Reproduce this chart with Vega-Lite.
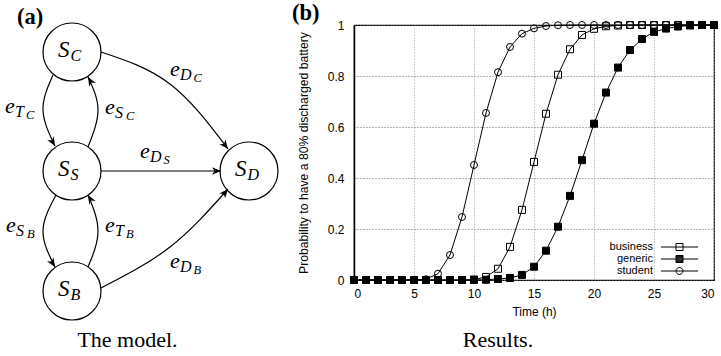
{
  "$schema": "https://vega.github.io/schema/vega-lite/v6.json",
  "width": 360,
  "height": 255,
  "autosize": {"type": "none"},
  "padding": {"left": 354, "top": 25, "right": 7, "bottom": 76},
  "config": {
    "view": {"stroke": "black", "strokeWidth": 1.2},
    "font": "Liberation Sans"
  },
  "datasets": {
    "curves": [
      {"t": 0, "business": 0, "generic": 0, "student": 0},
      {"t": 1, "business": 0, "generic": 0, "student": 0},
      {"t": 2, "business": 0, "generic": 0, "student": 0},
      {"t": 3, "business": 0, "generic": 0, "student": 0},
      {"t": 4, "business": 0, "generic": 0, "student": 0},
      {"t": 5, "business": 0, "generic": 0, "student": 0},
      {"t": 6, "business": 0, "generic": 0, "student": 0.003},
      {"t": 7, "business": 0, "generic": 0, "student": 0.025},
      {"t": 8, "business": 0, "generic": 0, "student": 0.098},
      {"t": 9, "business": 0, "generic": 0, "student": 0.247},
      {"t": 10, "business": 0.002, "generic": 0, "student": 0.451},
      {"t": 11, "business": 0.012, "generic": 0.001, "student": 0.655},
      {"t": 12, "business": 0.044, "generic": 0.004, "student": 0.815},
      {"t": 13, "business": 0.13, "generic": 0.008, "student": 0.914},
      {"t": 14, "business": 0.275, "generic": 0.02, "student": 0.966},
      {"t": 15, "business": 0.463, "generic": 0.052, "student": 0.987},
      {"t": 16, "business": 0.652, "generic": 0.115, "student": 0.996},
      {"t": 17, "business": 0.805, "generic": 0.209, "student": 0.999},
      {"t": 18, "business": 0.905, "generic": 0.33, "student": 1},
      {"t": 19, "business": 0.961, "generic": 0.47, "student": 1},
      {"t": 20, "business": 0.985, "generic": 0.613, "student": 1},
      {"t": 21, "business": 0.995, "generic": 0.735, "student": 1},
      {"t": 22, "business": 0.998, "generic": 0.833, "student": 1},
      {"t": 23, "business": 1, "generic": 0.902, "student": 1},
      {"t": 24, "business": 1, "generic": 0.945, "student": 1},
      {"t": 25, "business": 1, "generic": 0.973, "student": 1},
      {"t": 26, "business": 1, "generic": 0.986, "student": 1},
      {"t": 27, "business": 1, "generic": 0.994, "student": 1},
      {"t": 28, "business": 1, "generic": 0.998, "student": 1},
      {"t": 29, "business": 1, "generic": 1, "student": 1},
      {"t": 30, "business": 1, "generic": 1, "student": 1}
    ],
    "nodes": [
      {"id": "C", "x": 0, "y": 23.9},
      {"id": "S", "x": 0, "y": 12},
      {"id": "B", "x": 0, "y": 0},
      {"id": "D", "x": 17.7, "y": 12}
    ],
    "edges": [
      {"edge": "TC", "k": 0, "x": -1.9, "y": 21.6},
      {"edge": "TC", "k": 1, "x": -2.9, "y": 18.1},
      {"edge": "TC", "k": 2, "x": -1.7, "y": 14.5},
      {"edge": "SC", "k": 0, "x": 1.6, "y": 14.4},
      {"edge": "SC", "k": 1, "x": 2.6, "y": 18.1},
      {"edge": "SC", "k": 2, "x": 1.6, "y": 21.4},
      {"edge": "SB", "k": 0, "x": -1.6, "y": 9.6},
      {"edge": "SB", "k": 1, "x": -2.9, "y": 6.0},
      {"edge": "SB", "k": 2, "x": -1.7, "y": 2.4},
      {"edge": "TB", "k": 0, "x": 1.6, "y": 2.4},
      {"edge": "TB", "k": 1, "x": 2.6, "y": 6.0},
      {"edge": "TB", "k": 2, "x": 1.6, "y": 9.6},
      {"edge": "DC", "k": 0, "x": 2.9, "y": 23.9},
      {"edge": "DC", "k": 1, "x": 9.8, "y": 20.7},
      {"edge": "DC", "k": 2, "x": 15.6, "y": 14.2},
      {"edge": "DS", "k": 0, "x": 2.9, "y": 12},
      {"edge": "DS", "k": 1, "x": 14.9, "y": 12},
      {"edge": "DB", "k": 0, "x": 2.9, "y": 0.3},
      {"edge": "DB", "k": 1, "x": 9.8, "y": 4.4},
      {"edge": "DB", "k": 2, "x": 15.6, "y": 10.2}
    ],
    "arrows": [
      {"edge": "TC", "x": -1.7, "y": 14.5, "angle": 60},
      {"edge": "SC", "x": 1.6, "y": 21.4, "angle": -120},
      {"edge": "SB", "x": -1.7, "y": 2.4, "angle": 58},
      {"edge": "TB", "x": 1.6, "y": 9.6, "angle": -120},
      {"edge": "DC", "x": 15.6, "y": 14.2, "angle": 52},
      {"edge": "DS", "x": 14.9, "y": 12, "angle": 0},
      {"edge": "DB", "x": 15.6, "y": 10.2, "angle": -50}
    ],
    "edgeLabels": [
      {"sub": "T", "subsub": "C", "x": -6.7, "y": 17.8},
      {"sub": "S", "subsub": "C", "x": 3.3, "y": 17.7},
      {"sub": "D", "subsub": "C", "x": 9.8, "y": 21.5},
      {"sub": "D", "subsub": "S", "x": 6.8, "y": 13.3},
      {"sub": "S", "subsub": "B", "x": -6.6, "y": 5.9},
      {"sub": "T", "subsub": "B", "x": 3.3, "y": 5.9},
      {"sub": "D", "subsub": "B", "x": 9.8, "y": 2.3}
    ],
    "panels": [
      {"label": "(a)", "x": -5.5, "y": 26.7},
      {"label": "(b)", "x": 22, "y": 27.1}
    ],
    "captions": [
      {"label": "The model.", "x": 5.55, "y": -5.6},
      {"label": "Results.", "x": 42.6, "y": -5.6}
    ]
  },
  "layer": [
    {
      "encoding": {
        "x": {"field": "x", "type": "quantitative", "scale": {"domain": [28.2, 64.2], "nice": false, "zero": false}, "axis": null},
        "y": {"field": "y", "type": "quantitative", "scale": {"domain": [1.1, 26.6], "nice": false, "zero": false}, "axis": null}
      },
      "layer": [
        {
          "data": {"name": "nodes"},
          "mark": {"type": "point", "shape": "circle", "size": 3364, "filled": false, "stroke": "black", "strokeWidth": 1.2, "opacity": 1}
        },
        {
          "data": {"name": "edges"},
          "mark": {"type": "line", "interpolate": "natural", "color": "black", "strokeWidth": 1.2},
          "encoding": {"detail": {"field": "edge"}, "order": {"field": "k", "type": "quantitative"}}
        },
        {
          "data": {"name": "arrows"},
          "mark": {"type": "point", "shape": "M0,0L-1,-0.42L-0.72,0L-1,0.42Z", "size": 324, "filled": true, "color": "black", "opacity": 1, "strokeWidth": 0},
          "encoding": {"angle": {"field": "angle", "type": "quantitative", "scale": null}}
        },
        {
          "data": {"name": "nodes"},
          "mark": {"type": "text", "text": "S", "font": "Liberation Serif", "fontStyle": "italic", "fontSize": 23, "align": "left", "baseline": "alphabetic", "dx": -14, "dy": 5, "color": "black"}
        },
        {
          "data": {"name": "nodes"},
          "mark": {"type": "text", "font": "Liberation Serif", "fontStyle": "italic", "fontSize": 16, "align": "left", "baseline": "alphabetic", "dx": -1.5, "dy": 9, "color": "black"},
          "encoding": {"text": {"field": "id"}}
        },
        {
          "data": {"name": "edgeLabels"},
          "mark": {"type": "text", "text": "e", "font": "Liberation Serif", "fontStyle": "italic", "fontSize": 22, "align": "left", "baseline": "alphabetic", "color": "black"}
        },
        {
          "data": {"name": "edgeLabels"},
          "mark": {"type": "text", "font": "Liberation Serif", "fontStyle": "italic", "fontSize": 16, "align": "left", "baseline": "alphabetic", "dx": 10, "dy": 3.5, "color": "black"},
          "encoding": {"text": {"field": "sub"}}
        },
        {
          "data": {"name": "edgeLabels"},
          "transform": [{"filter": "datum.sub !== 'D'"}],
          "mark": {"type": "text", "font": "Liberation Serif", "fontStyle": "italic", "fontSize": 12.5, "align": "left", "baseline": "alphabetic", "dx": 21, "dy": 6, "color": "black"},
          "encoding": {"text": {"field": "subsub"}}
        },
        {
          "data": {"name": "edgeLabels"},
          "transform": [{"filter": "datum.sub === 'D'"}],
          "mark": {"type": "text", "font": "Liberation Serif", "fontStyle": "italic", "fontSize": 12.5, "align": "left", "baseline": "alphabetic", "dx": 23.5, "dy": 6, "color": "black"},
          "encoding": {"text": {"field": "subsub"}}
        },
        {
          "data": {"name": "panels"},
          "mark": {"type": "text", "font": "Liberation Serif", "fontWeight": "bold", "fontSize": 22.5, "align": "left", "baseline": "alphabetic", "color": "black"},
          "encoding": {"text": {"field": "label"}}
        },
        {
          "data": {"name": "captions"},
          "mark": {"type": "text", "font": "Liberation Serif", "fontSize": 22, "align": "center", "baseline": "alphabetic", "color": "black"},
          "encoding": {"text": {"field": "label"}}
        }
      ]
    },
    {
      "data": {"name": "curves"},
      "transform": [{"fold": ["business", "generic", "student"], "as": ["series", "p"]}],
      "encoding": {
        "x": {
          "field": "t", "type": "quantitative",
          "scale": {"domain": [0, 30], "nice": false, "zero": false},
          "axis": {
            "values": [0, 5, 10, 15, 20, 25, 30], "format": "d", "ticks": false, "domain": false,
            "labelPadding": 8, "labelFontSize": 12, "labelFont": "Liberation Sans", "labelColor": "black",
            "title": "Time (h)", "titleFont": "Liberation Sans", "titleFontSize": 12, "titleFontWeight": "normal", "titleColor": "black", "titlePadding": 7,
            "grid": true, "gridColor": "#999", "gridDash": [1, 2], "gridWidth": 1, "gridOpacity": 1
          }
        },
        "y": {
          "field": "p", "type": "quantitative",
          "scale": {"domain": [0, 1], "nice": false, "zero": false},
          "axis": {
            "values": [0, 0.2, 0.4, 0.6, 0.8, 1], "format": "~g", "ticks": false, "domain": true, "domainColor": "black", "domainWidth": 1.5,
            "labelPadding": 10, "labelFontSize": 12, "labelFont": "Liberation Sans", "labelColor": "black",
            "title": "Probability to have a 80% discharged battery", "titleFont": "Liberation Sans", "titleFontSize": 12.2, "titleFontWeight": "normal", "titleColor": "black", "titlePadding": 17,
            "grid": true, "gridColor": "#666", "gridDash": [1, 2], "gridWidth": 1, "gridOpacity": 1
          }
        }
      },
      "layer": [
        {
          "mark": {"type": "line", "color": "black", "strokeWidth": 1},
          "encoding": {"detail": {"field": "series"}}
        },
        {
          "mark": {"type": "point", "filled": true, "size": 49, "stroke": "black", "strokeWidth": 1, "opacity": 1},
          "encoding": {
            "shape": {
              "field": "series", "type": "nominal",
              "scale": {"domain": ["business", "generic", "student"], "range": ["square", "square", "circle"]},
              "legend": null
            },
            "fill": {
              "field": "series", "type": "nominal",
              "scale": {"domain": ["business", "generic", "student"], "range": ["transparent", "black", "transparent"]},
              "legend": null
            }
          }
        },
        {
          "transform": [{"filter": "false"}],
          "mark": {"type": "point", "filled": false, "color": "black", "size": 49, "strokeWidth": 1, "opacity": 1},
          "encoding": {
            "shape": {
              "field": "series", "type": "nominal",
              "scale": {"domain": ["business", "generic", "student"], "range": [
                "M-5.3,0H5.3M-1,-1H1V1H-1Z",
                "M-5.3,0H5.3M-1,-1H1V1H-1ZM-1,-0.75H1M-1,-0.5H1M-1,-0.25H1M-1,0.25H1M-1,0.5H1M-1,0.75H1",
                "M-5.3,0H5.3M-1,0A1,1,0,1,0,1,0A1,1,0,1,0,-1,0"
              ]},
              "legend": {
                "title": null, "orient": "none", "legendX": 320, "legendY": 216.5, "padding": 0,
                "labelAlign": "right", "labelOffset": -32, "labelFont": "Liberation Sans", "labelFontSize": 11, "labelColor": "black",
                "symbolSize": 49, "symbolStrokeColor": "black", "symbolFillColor": "transparent", "symbolStrokeWidth": 1, "symbolOpacity": 1, "rowPadding": 0
              }
            }
          }
        }
      ],
      "resolve": {"scale": {"shape": "independent"}}
    }
  ],
  "resolve": {"scale": {"x": "independent", "y": "independent"}}
}
